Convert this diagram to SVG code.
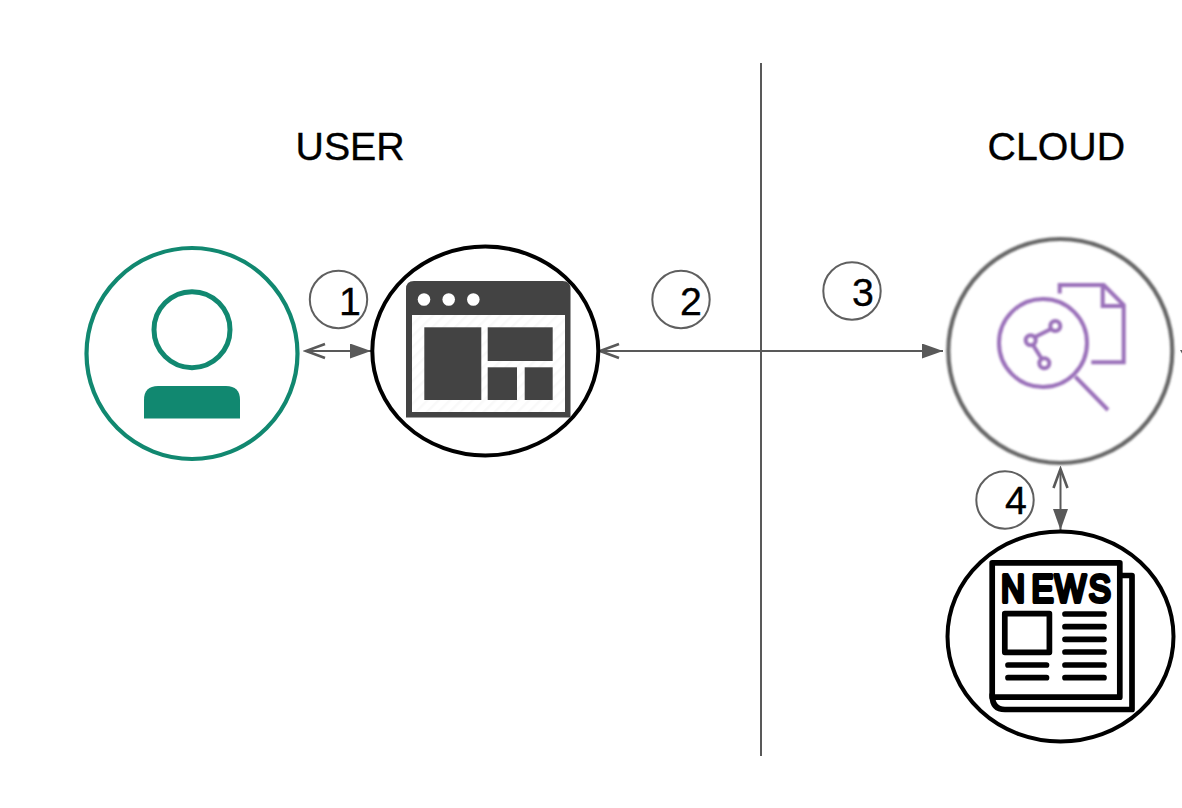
<svg xmlns="http://www.w3.org/2000/svg" width="1182" height="808" viewBox="0 0 1182 808">
<style>
.lbl{font-family:"Liberation Sans",Arial,sans-serif;font-size:39.3px;fill:#000;stroke:#000;stroke-width:.35}
.badge{fill:none;stroke:#5f5f5f;stroke-width:2}
.conn{fill:none;stroke:#595959;stroke-width:2}
.ring{fill:none;stroke:#000;stroke-width:4}
.dark{fill:#434343}
.grn{fill:none;stroke:#118870;stroke-width:4.2}
.pur{fill:none;stroke:#9a70b9;stroke-width:4}
.nw{fill:none;stroke:#000;stroke-width:5.7;stroke-linejoin:round;stroke-linecap:round}
</style>
<defs>
<marker id="fill" markerUnits="userSpaceOnUse" markerWidth="22" markerHeight="16" refX="21" refY="7.5" orient="auto-start-reverse"><path d="M0 0L21 7.5L0 15z" fill="#595959"/></marker>
<marker id="open" markerUnits="userSpaceOnUse" markerWidth="24" markerHeight="20" refX="21" refY="10" orient="auto-start-reverse"><path d="M2 3L21 10L2 17" fill="none" stroke="#595959" stroke-width="2.6"/></marker>
<pattern id="hatch" width="8" height="8" patternUnits="userSpaceOnUse" patternTransform="rotate(45)"><rect width="8" height="8" fill="#fff"/><rect width="2.5" height="8" fill="#f9f9f9"/></pattern>
<filter id="soft" x="-5%" y="-5%" width="110%" height="110%"><feGaussianBlur stdDeviation="0.85"/></filter>
</defs>
<rect width="1182" height="808" fill="#fff"/>
<g id="connectors">
<line class="conn" x1="761" y1="63" x2="761" y2="756"/>
<line class="conn" x1="306" y1="351" x2="371" y2="351" marker-start="url(#open)" marker-end="url(#fill)"/>
<line class="conn" x1="600" y1="351" x2="943" y2="351" marker-start="url(#open)" marker-end="url(#fill)"/>
<line class="conn" x1="1060.5" y1="469" x2="1060.5" y2="530" marker-start="url(#open)" marker-end="url(#fill)"/>
<path d="M1180 350L1182 353.5V350z" fill="#595959"/>
</g>
<g id="title-user"><text class="lbl" x="295.5" y="160">USER</text></g>
<g id="title-cloud"><text class="lbl" x="987.5" y="160">CLOUD</text></g>
<g id="node-user">
<circle class="grn" cx="192" cy="353.5" r="105.5"/>
<circle class="grn" cx="192" cy="329.7" r="38" style="stroke-width:5"/>
<path d="M144 418.5V400Q144 386 158 386H226Q240 386 240 400V418.5z" fill="#118870"/>
</g>
<g id="node-browser">
<ellipse class="ring" cx="485.3" cy="351" rx="113" ry="104.5"/>
<path class="dark" d="M406 417.5V289Q406 281 414 281H562.5Q570.5 281 570.5 289V417.5z"/>
<rect x="412" y="315" width="153" height="97" fill="url(#hatch)"/>
<g fill="#fff"><circle cx="424" cy="299.5" r="6.3"/><circle cx="448.7" cy="299.5" r="6.3"/><circle cx="473.3" cy="299.5" r="6.3"/></g>
<rect class="dark" x="424.3" y="327.3" width="57" height="72.7"/>
<rect class="dark" x="487.7" y="327.3" width="65" height="33.7"/>
<rect class="dark" x="487.7" y="367.3" width="29.3" height="32.7"/>
<rect class="dark" x="524.7" y="367.3" width="28" height="32.7"/>
</g>
<g id="node-search" filter="url(#soft)">
<circle cx="1060.3" cy="351" r="112" fill="none" stroke="#666" stroke-width="4.2"/>
<circle class="pur" cx="1043" cy="343" r="44"/>
<path class="pur" d="M1075.3 376.7L1108 410M1059.7 293.5V285H1103.7L1123.7 305V362.3H1091.3M1102.7 286.7V306H1123.7M1051 329L1035 337M1033 345L1041.5 358.5"/>
<circle class="pur" cx="1055.3" cy="326" r="5"/>
<circle class="pur" cx="1030.7" cy="340.3" r="5"/>
<circle class="pur" cx="1044.3" cy="363.3" r="5"/>
</g>
<g id="node-news">
<ellipse class="ring" cx="1060.5" cy="636.5" rx="113" ry="105"/>
<rect class="nw" x="992.2" y="562.8" width="127.6" height="134.4"/>
<path class="nw" d="M1122 575.5H1132V709.5H1005Q992.2 709.5 992.2 695"/>
<text transform="scale(.85 1)" x="1177.6 1213.5 1241 1281" y="602.3" font-family="'Liberation Sans',Arial,sans-serif" font-size="39" fill="#000" stroke="#000" stroke-width="4" stroke-linejoin="round" stroke-linecap="round">NEWS</text>
<rect class="nw" x="1004.8" y="613.7" width="44.6" height="38.6"/>
<path class="nw" d="M1065 614H1104M1065 626.7H1104M1065 639.3H1104M1065 652H1104M1065 665H1104M1065 677.7H1104M1008 665H1046.5M1008 677.7H1046.5"/>
</g>
<g id="badge-1"><circle class="badge" cx="338.5" cy="299.5" r="28.7"/><text class="lbl" x="339" y="315">1</text></g>
<g id="badge-2"><circle class="badge" cx="681" cy="299.5" r="28.7"/><text class="lbl" x="680" y="315">2</text></g>
<g id="badge-3"><circle class="badge" cx="852" cy="291" r="28.7"/><text class="lbl" x="852" y="306">3</text></g>
<g id="badge-4"><circle class="badge" cx="1005" cy="500" r="28.7"/><text class="lbl" x="1005" y="514">4</text></g>
</svg>
